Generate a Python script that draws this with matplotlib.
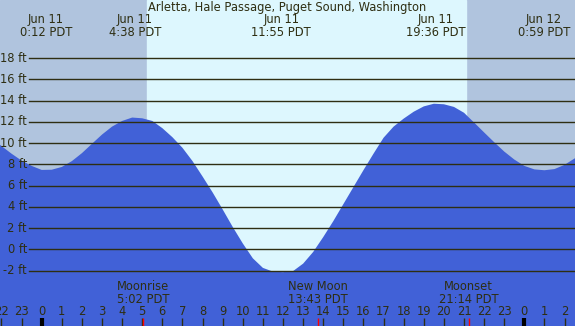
import numpy as np
import matplotlib
matplotlib.use("Agg")
import matplotlib.pyplot as plt

# ---- data ----
hours = np.arange(-2.5, 27.01, 0.5)          # hours since midnight Jun 11 (PDT)
tide_ft = [10.45, 9.72, 9.0, 8.35, 7.85, 7.47, 7.49, 7.75, 8.3, 9.05,
           9.93, 10.8, 11.55, 12.08, 12.4, 12.33, 12.08, 11.4, 10.55, 9.55,
           8.3, 6.85, 5.35, 3.75, 2.1, 0.55, -0.85, -1.75, -2.1, -2.15,
           -2.05, -1.35, -0.25, 1.15, 2.65, 4.25, 5.85, 7.45, 9.0, 10.5,
           11.55, 12.3, 12.95, 13.45, 13.7, 13.65, 13.4, 12.85, 11.93, 11.0,
           10.08, 9.2, 8.45, 7.85, 7.52, 7.44, 7.55, 7.95, 8.55, 9.2]

title = "Arletta, Hale Passage, Puget Sound, Washington"
extreme_times = [0.2, 38/60 + 4, 11 + 55/60, 19.6, 24 + 59/60]
extreme_labels = ["Jun 11\n0:12 PDT", "Jun 11\n4:38 PDT", "Jun 11\n11:55 PDT",
                  "Jun 11\n19:36 PDT", "Jun 12\n0:59 PDT"]
moon_times = [5 + 2/60, 13 + 43/60, 21 + 14/60]
moon_labels = ["Moonrise\n5:02 PDT", "New Moon\n13:43 PDT", "Moonset\n21:14 PDT"]
sunrise, sunset = 5.24, 21.1
grid_levels = list(range(-2, 19, 2))
hour_ticks = list(range(-2, 27))

# ---- layout ----
W, H = 575, 326
X0, XS = 41.7, 20.11        # px of hour 0, px per hour
Y0, YS = 249.3, 10.625      # px of 0 ft, px per ft
xmin, xmax = -X0 / XS, (W - X0) / XS
ymax, ymin = Y0 / YS, (Y0 - H) / YS

night = "#b0c4de"
day = "#ddf7fe"
water = "#4161d7"
ink = "#2e2e12"

fig = plt.figure(figsize=(W / 100, H / 100), dpi=100)
ax = fig.add_axes([0, 0, 1, 1])
ax.set_xlim(xmin, xmax)
ax.set_ylim(ymin, ymax)
ax.axis("off")

ax.axvspan(xmin, xmax, color=night, zorder=0)
ax.axvspan(sunrise, sunset, color=day, zorder=0.5)
ax.fill_between(hours, tide_ft, ymin, color=water, lw=0, zorder=1)

fs = 8.3
for lv in grid_levels:
    ax.axhline(lv, xmin=29 / W, xmax=1, color=ink, lw=1.0, zorder=2)
    ax.text(27 / W, lv, f"{lv} ft", transform=ax.get_yaxis_transform(),
            ha="right", va="center", fontsize=fs, color=ink, zorder=3)

ax.text(0.5, 1 - 7.5 / H, title, transform=ax.transAxes, ha="center",
        va="center", fontsize=fs, color=ink)
for t, lab in zip(extreme_times, extreme_labels):
    ax.text(t, ymax - 25.5 / YS, lab, ha="center", va="center",
            fontsize=fs, color=ink, linespacing=1.0)

for t, lab in zip(moon_times, moon_labels):
    ax.text(t, (Y0 - 293) / YS, lab, ha="center", va="center",
            fontsize=fs, color=ink, linespacing=1.0)

tick_top = (Y0 - 318) / YS
for h in hour_ticks:
    ax.text(h, (Y0 - 311.5) / YS, str(h % 24), ha="center", va="center",
            fontsize=fs, color=ink)
    if h % 24 == 0:
        ax.vlines(h, ymin, tick_top, color="black", lw=3.0, zorder=4)
    else:
        ax.vlines(h, ymin, tick_top, color=ink, lw=1.0, zorder=4)
for t in moon_times:
    ax.vlines(t, ymin, tick_top, color="red", lw=1.0, zorder=5)

fig.savefig("out.png", dpi=100)
